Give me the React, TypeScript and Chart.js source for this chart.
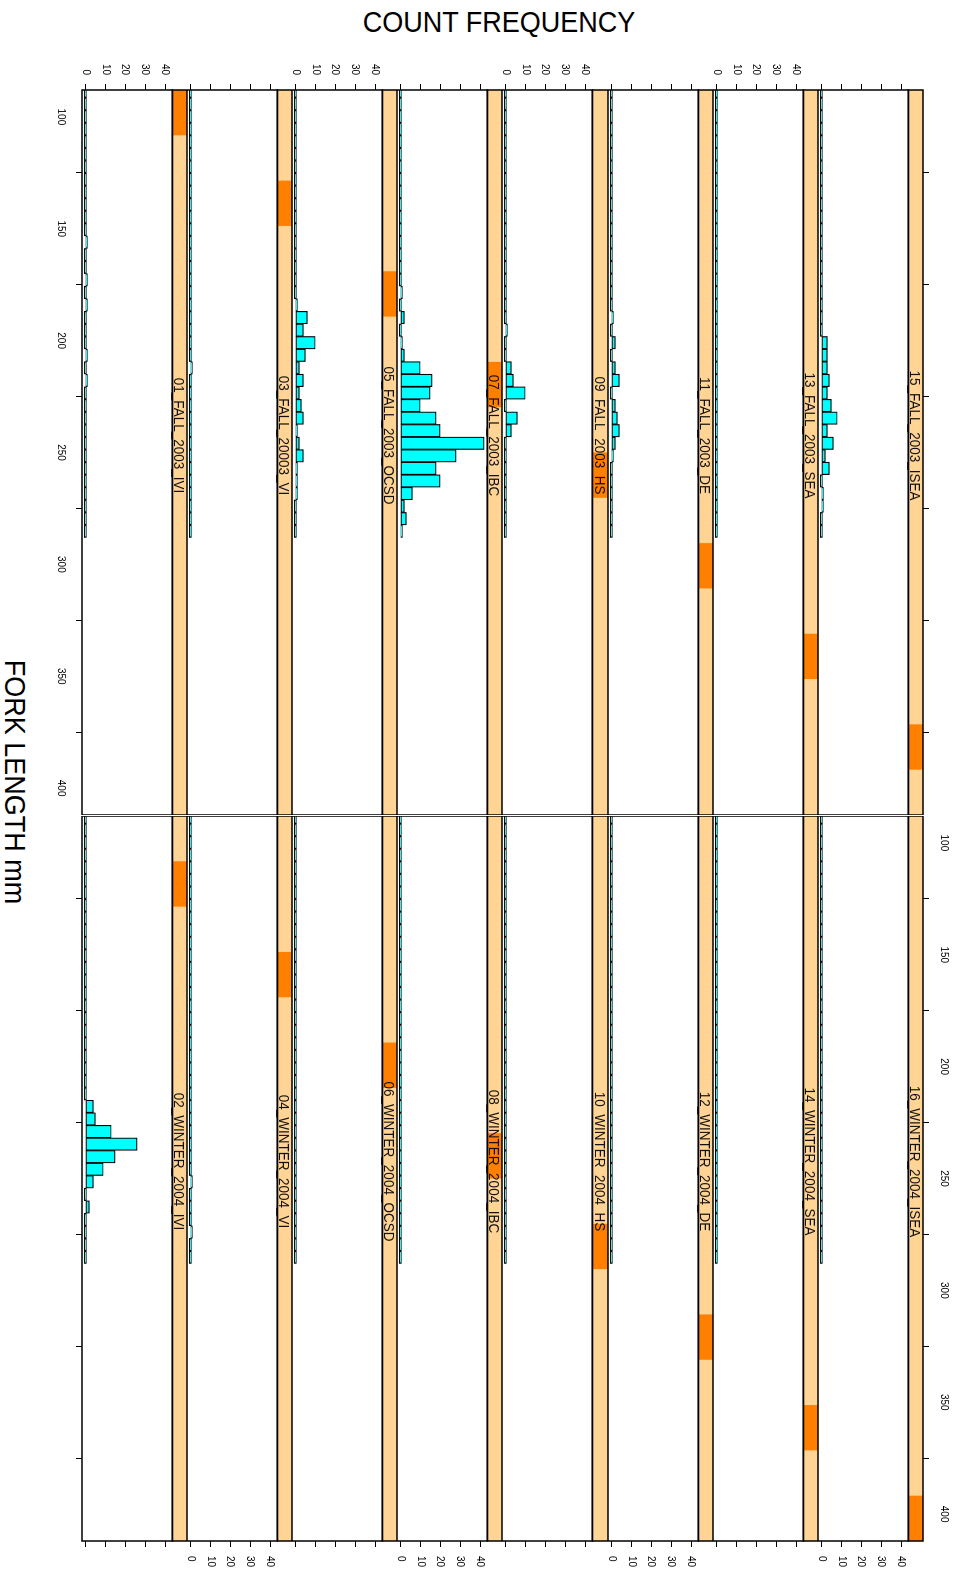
import React, { useEffect, useRef } from "react";
import { Chart, registerables } from "chart.js";

Chart.register(...registerables);

// ---------- data ----------
// histogram breaks (fork length, mm) shared by all panels
const BREAKS = [
  85.8, 91.42, 97.03, 102.65, 108.27, 113.88, 119.5, 125.12, 130.73, 136.35,
  141.97, 147.58, 153.2, 158.82, 164.43, 170.05, 175.67, 181.28, 186.9, 192.52,
  198.13, 203.75, 209.37, 214.98, 220.6, 226.22, 231.83, 237.45, 243.07, 248.68,
  254.3, 259.92, 265.53, 271.15, 276.77, 282.38, 288.0,
];
const LENGTH_TICKS = [100, 150, 200, 250, 300, 350, 400];
const COUNT_TICKS = [0, 10, 20, 30, 40];
const LENGTH_RANGE = [88, 412];
const COUNT_MAX = 42;

const NONE = [0,0,0,0,0,0,0,0,0,0, 0,0,0,0,0,0,0,0,0,0, 0,0,0,0,0,0,0,0,0,0, 0,0,0,0,0,0];
const F01_IVI = [0,0,0,0,0,0,0,0,0,0, 0,0,1,0,0,1,0,1,0,0, 0,1,0,1,0,0,0,0,0,0, 0,0,0,0,0,0];
const F03_VI = [0,0,0,0,0,0,0,0,0,0, 0,0,0,0,0,0,0,0,0,0, 0,0,1,0,0,0,0,0,0,0, 0,0,0,0,0,0];
const F05_OCSD = [0,0,0,0,0,0,0,0,0,0, 0,0,0,0,0,0,0,1,6,4, 10,5,2,4,2,3,4,1,2,4, 1,1,1,0,0,0];
const F07_IBC = [0,0,0,0,0,0,0,0,0,0, 0,0,0,0,0,0,1,0,2,0, 1,2,10,16,15,10,18,20,42,28, 18,20,6,2,3,1];
const F09_HS = [0,0,0,0,0,0,0,0,0,0, 0,0,0,0,0,0,0,0,0,1, 0,0,3,4,10,0,6,3,0,0, 0,0,0,0,0,0];
const F11_DE = [0,0,0,0,0,0,0,0,0,0, 0,0,0,0,0,0,0,0,1,0, 2,0,2,4,0,2,3,4,2,1, 0,0,0,0,0,0];
const F13_SEA = NONE;
const F15_ISEA = [0,0,0,0,0,0,0,0,0,0, 0,0,0,0,0,0,0,0,0,0, 3,3,3,4,3,5,8,3,6,2, 4,0,1,1,0,0];
const W02_IVI = [0,0,0,0,0,0,0,0,0,0, 0,0,0,0,0,0,0,0,0,0, 0,0,0,4,5,13,26,15,9,4, 0,2,0,0,0,0];
const W04_VI = [0,0,0,0,0,0,0,0,0,0, 0,0,0,0,0,0,0,0,0,0, 0,0,0,0,0,0,0,0,0,1, 0,0,0,1,0,0];
const W06_OCSD = NONE;
const W08_IBC = NONE;
const W10_HS = NONE;
const W12_DE = NONE;
const W14_SEA = NONE;
const W16_ISEA = NONE;

const FALL_LABELS = [
  "01_FALL_2003_IVI", "03_FALL_20003_VI", "05_FALL_2003_OCSD", "07_FALL_2003_IBC",
  "09_FALL_2003_HS", "11_FALL_2003_DE", "13_FALL_2003_SEA", "15_FALL_2003_ISEA",
];
const WINTER_LABELS = [
  "02_WINTER_2004_IVI", "04_WINTER_2004_VI", "06_WINTER_2004_OCSD", "08_WINTER_2004_IBC",
  "10_WINTER_2004_HS", "12_WINTER_2004_DE", "14_WINTER_2004_SEA", "16_WINTER_2004_ISEA",
];
const FALL_COUNTS = [F01_IVI, F03_VI, F05_OCSD, F07_IBC, F09_HS, F11_DE, F13_SEA, F15_ISEA];
const WINTER_COUNTS = [W02_IVI, W04_VI, W06_OCSD, W08_IBC, W10_HS, W12_DE, W14_SEA, W16_ISEA];

// ---------- layout (unrotated frame, 1574 x 955) ----------
const W0 = 1574;
const H0 = 955;
const COL_LEFT = [90, 816];
const COL_W = 725;
const ROW_EDGES = [873, 768, 663, 558, 453, 347, 242, 137, 32];
const DATA_H = 90.4;
const AXW = 50;
const AXH = 30;
const FONT = '"Liberation Sans", Arial, Helvetica, sans-serif';
const CYAN = "#00FFFF";
const STRIP_BG = "#FFD495";
const STRIP_LEVEL = "#FF7F00";

Chart.defaults.font.family = FONT;
Chart.defaults.color = "#000";

const MIDS = BREAKS.slice(0, -1).map((b, k) => (b + BREAKS[k + 1]) / 2);

function Panel({ col, row }: { col: number; row: number }) {
  const ref = useRef<HTMLCanvasElement>(null);
  const bottom = ROW_EDGES[row];
  const top = ROW_EDGES[row + 1];
  const H = bottom - top;
  const showX = row === 0 || row === 7;
  const xLabels = (col === 0 && row === 0) || (col === 1 && row === 7);
  const yLabels = col === 0 ? row % 2 === 0 : row % 2 === 1;
  const canvasLeft = col === 0 ? COL_LEFT[0] - AXW : COL_LEFT[1];
  const canvasTop = top - (row === 7 ? AXH : 0);
  const cw = COL_W + AXW;
  const ch = H + (showX ? AXH : 0);
  const counts = col === 0 ? FALL_COUNTS[row] : WINTER_COUNTS[row];
  const label = col === 0 ? FALL_LABELS[row] : WINTER_LABELS[row];
  const level = col === 0 ? 2 * row + 1 : 2 * row + 2;

  useEffect(() => {
    if (!ref.current) return;
    const yMin = -0.04 * COUNT_MAX;
    const yDataTop = 1.04 * COUNT_MAX;
    const unitsPerPx = (yDataTop - yMin) / DATA_H;
    const yMax = yMin + H * unitsPerPx;

    const decor = {
      id: "panelDecor",
      afterDatasetsDraw(chart: any) {
        const { ctx, chartArea: a } = chart;
        const sb = chart.scales.y.getPixelForValue(yDataTop);
        const w = a.right - a.left;
        ctx.save();
        ctx.fillStyle = STRIP_BG;
        ctx.fillRect(a.left, a.top, w, sb - a.top);
        ctx.fillStyle = STRIP_LEVEL;
        ctx.fillRect(a.left + (w * (level - 1)) / 16, a.top, w / 16, sb - a.top);
        ctx.strokeStyle = "#000";
        ctx.lineWidth = 1.5;
        ctx.strokeRect(a.left, a.top, w, sb - a.top);
        ctx.strokeRect(a.left, sb, w, a.bottom - sb);
        ctx.fillStyle = "#111";
        ctx.font = `15px ${FONT}`;
        ctx.textAlign = "center";
        ctx.textBaseline = "alphabetic";
        ctx.translate(a.left + w / 2 - 17, a.top + 13.3);
        ctx.scale(0.9, 1);
        ctx.fillText(label, 0, 0);
        ctx.restore();
      },
    };

    const chart = new Chart(ref.current, {
      type: "bar",
      data: {
        datasets: [
          {
            data: MIDS.map((x, k) => ({ x, y: counts[k] })),
            backgroundColor: CYAN,
            borderColor: "#000",
            borderWidth: 1.2,
            borderSkipped: false,
            barPercentage: 1,
            categoryPercentage: 1,
            minBarLength: 2,
            clip: 0,
          } as any,
        ],
      },
      options: {
        responsive: false,
        animation: false,
        devicePixelRatio: 1,
        layout: { padding: 0 },
        plugins: { legend: { display: false }, tooltip: { enabled: false } },
        scales: {
          x: {
            type: "linear",
            min: LENGTH_RANGE[0],
            max: LENGTH_RANGE[1],
            offset: false,
            display: showX,
            position: row === 7 ? "top" : "bottom",
            border: { display: false },
            grid: { display: true, drawOnChartArea: false, drawTicks: true, tickLength: 6, color: "#000", lineWidth: 1 },
            ticks: { display: xLabels, padding: 9, maxRotation: 0, minRotation: 0, autoSkip: false, font: { size: 10, family: FONT }, color: "#000" },
            afterBuildTicks: (s: any) => { s.ticks = LENGTH_TICKS.map((v) => ({ value: v })); },
            afterFit: (s: any) => { s.height = showX ? AXH : 0; s.paddingLeft = 0; s.paddingRight = 0; },
          },
          y: {
            type: "linear",
            min: yMin,
            max: yMax,
            position: col === 0 ? "left" : "right",
            border: { display: false },
            grid: { display: true, drawOnChartArea: false, drawTicks: true, tickLength: 6, color: "#000", lineWidth: 1 },
            ticks: { display: yLabels, padding: 9, font: { size: 10, family: FONT }, color: "#000" },
            afterBuildTicks: (s: any) => { s.ticks = COUNT_TICKS.map((v) => ({ value: v })); },
            afterFit: (s: any) => { s.width = AXW; s.paddingTop = 0; s.paddingBottom = 0; },
          },
        },
      } as any,
      plugins: [decor],
    });
    return () => chart.destroy();
  }, []);

  return (
    <canvas
      ref={ref}
      width={cw}
      height={ch}
      style={{ position: "absolute", left: canvasLeft, top: canvasTop, width: cw, height: ch }}
    />
  );
}

export default function App() {
  const panels = [];
  for (let c = 0; c < 2; c++) for (let r = 0; r < 8; r++) panels.push(<Panel key={`${c}-${r}`} col={c} row={r} />);
  return (
    <div style={{ position: "fixed", left: 0, top: 0, width: 955, height: 1574, overflow: "hidden", background: "#fff" }}>
      <div
        style={{
          position: "absolute",
          left: 0,
          top: 0,
          width: W0,
          height: H0,
          transformOrigin: "0 0",
          transform: `translate(${H0}px, 0px) rotate(90deg)`,
        }}
      >
        {panels}
        <div
          style={{
            position: "absolute",
            left: 782 - 400,
            top: 924.6,
            width: 800,
            height: 30,
            lineHeight: "30px",
            fontSize: 30,
            fontFamily: FONT,
            textAlign: "center",
            color: "#000",
            whiteSpace: "nowrap",
            transform: "scaleX(0.9)",
          }}
        >
          FORK LENGTH mm
        </div>
        <div
          style={{
            position: "absolute",
            left: 21.6 - 300,
            top: 455.5 - 15,
            width: 600,
            height: 30,
            lineHeight: "30px",
            fontSize: 30,
            fontFamily: FONT,
            textAlign: "center",
            color: "#000",
            whiteSpace: "nowrap",
            transform: "rotate(-90deg) scaleX(0.9)",
          }}
        >
          COUNT FREQUENCY
        </div>
      </div>
    </div>
  );
}
